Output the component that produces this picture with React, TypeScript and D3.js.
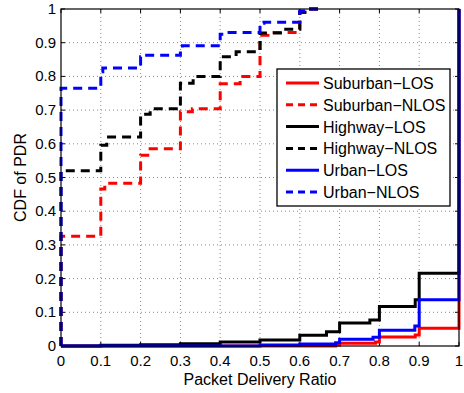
import React from "react";
import * as d3 from "d3";

/* DATA (step CDFs: y changes at each x) */
const suburbanLosX = [0, 0.69, 0.7, 0.79, 0.8, 0.89, 0.9, 1, 1];
const suburbanLosY = [0, 0.003, 0.008, 0.012, 0.027, 0.033, 0.053, 0.053, 1];

const suburbanNlosX = [0, 0, 0.1, 0.11, 0.2, 0.224, 0.3, 0.33, 0.4, 0.45, 0.5, 0.52, 0.6, 0.62, 0.66];
const suburbanNlosY = [0, 0.326, 0.466, 0.483, 0.566, 0.585, 0.695, 0.704, 0.778, 0.8, 0.922, 0.93, 0.99, 1, 1];

const highwayLosX = [0, 0.1, 0.2, 0.3, 0.4, 0.5, 0.6, 0.667, 0.7, 0.776, 0.8, 0.89, 0.9, 1, 1];
const highwayLosY = [0, 0.002, 0.004, 0.007, 0.012, 0.018, 0.032, 0.042, 0.068, 0.077, 0.117, 0.137, 0.216, 0.216, 1];

const highwayNlosX = [0, 0, 0.1, 0.115, 0.2, 0.224, 0.3, 0.332, 0.4, 0.44, 0.5, 0.557, 0.6, 0.62, 0.66];
const highwayNlosY = [0, 0.52, 0.596, 0.62, 0.688, 0.704, 0.78, 0.8, 0.858, 0.873, 0.929, 0.94, 0.99, 1, 1];

const urbanLosX = [0, 0.5, 0.6, 0.69, 0.7, 0.784, 0.8, 0.889, 0.9, 1, 1];
const urbanLosY = [0, 0.003, 0.006, 0.01, 0.02, 0.026, 0.047, 0.059, 0.137, 0.137, 1];

const urbanNlosX = [0, 0, 0.1, 0.105, 0.2, 0.21, 0.3, 0.305, 0.4, 0.41, 0.5, 0.51, 0.6, 0.62, 0.66];
const urbanNlosY = [0, 0.765, 0.814, 0.825, 0.858, 0.863, 0.875, 0.891, 0.925, 0.93, 0.958, 0.961, 0.994, 1, 1];

const seriesNames = ["Suburban−LOS", "Suburban−NLOS", "Highway−LOS", "Highway−NLOS", "Urban−LOS", "Urban−NLOS"];
const seriesColors = ["#ff0000", "#ff0000", "#000000", "#000000", "#0000ff", "#0000ff"];
const seriesDashed = [false, true, false, true, false, true];

const tickValues = [0, 0.1, 0.2, 0.3, 0.4, 0.5, 0.6, 0.7, 0.8, 0.9, 1];
const tickLabels = ["0", "0.1", "0.2", "0.3", "0.4", "0.5", "0.6", "0.7", "0.8", "0.9", "1"];

const allX = [suburbanLosX, suburbanNlosX, highwayLosX, highwayNlosX, urbanLosX, urbanNlosX];
const allY = [suburbanLosY, suburbanNlosY, highwayLosY, highwayNlosY, urbanLosY, urbanNlosY];

function App() {
  const width = 464;
  const height = 393;
  const left = 61;
  const right = 459;
  const top = 9;
  const bottom = 346;
  const font = "Liberation Sans, Arial, Helvetica, sans-serif";

  const x = d3.scaleLinear().domain([0, 1]).range([left, right]);
  const y = d3.scaleLinear().domain([0, 1]).range([bottom, top]);

  const line = d3
    .line<[number, number]>()
    .x((d) => x(d[0]))
    .y((d) => y(d[1]))
    .curve(d3.curveStepAfter);

  // legend geometry
  const lg = { x: 277, y: 69, w: 173, h: 137, row: 21.8 };

  return (
    <svg
      width={width}
      height={height}
      style={{ position: "absolute", left: 0, top: 0, background: "#fff" }}
      fontFamily={font}
    >
      <rect x={0} y={0} width={width} height={height} fill="#fff" />

      {/* grid */}
      {tickValues.slice(1, -1).map((t, i) => (
        <g key={"g" + i}>
          <line x1={x(t)} x2={x(t)} y1={top} y2={bottom} stroke="#8a8a8a" strokeWidth={1} strokeDasharray="1,3" />
          <line x1={left} x2={right} y1={y(t)} y2={y(t)} stroke="#8a8a8a" strokeWidth={1} strokeDasharray="1,3" />
        </g>
      ))}

      {/* ticks */}
      {tickValues.map((t, i) => (
        <g key={"t" + i} stroke="#000" strokeWidth={1}>
          <line x1={x(t)} x2={x(t)} y1={bottom} y2={bottom - 4} />
          <line x1={x(t)} x2={x(t)} y1={top} y2={top + 4} />
          <line x1={left} x2={left + 4} y1={y(t)} y2={y(t)} />
          <line x1={right} x2={right - 4} y1={y(t)} y2={y(t)} />
        </g>
      ))}

      {/* series */}
      {allX.map((xs, i) => {
        const pts = xs.map((v, j) => [v, allY[i][j]] as [number, number]);
        return (
          <path
            key={"s" + i}
            d={line(pts) || ""}
            fill="none"
            stroke={seriesColors[i]}
            strokeWidth={3}
            strokeDasharray={seriesDashed[i] ? "9,6" : undefined}
          />
        );
      })}

      {/* axes box */}
      <rect x={left} y={top} width={right - left} height={bottom - top} fill="none" stroke="#000" strokeWidth={1.2} />

      {/* tick labels */}
      {tickValues.map((t, i) => (
        <text key={"xl" + i} x={x(t)} y={366} fontSize={15} textAnchor="middle" fill="#000">
          {tickLabels[i]}
        </text>
      ))}
      {tickValues.map((t, i) => (
        <text key={"yl" + i} x={56} y={y(t) + 5} fontSize={15} textAnchor="end" fill="#000">
          {tickLabels[i]}
        </text>
      ))}

      {/* axis labels */}
      <text x={(left + right) / 2} y={385} fontSize={16} textAnchor="middle" fill="#000">
        Packet Delivery Ratio
      </text>
      <text
        transform={`translate(26, ${(top + bottom) / 2}) rotate(-90)`}
        fontSize={16}
        textAnchor="middle"
        fill="#000"
      >
        CDF of PDR
      </text>

      {/* legend */}
      <rect x={lg.x} y={lg.y} width={lg.w} height={lg.h} fill="#fff" stroke="#000" strokeWidth={1.3} />
      {seriesNames.map((name, i) => {
        const cy = lg.y + 14 + i * lg.row;
        return (
          <g key={"l" + i}>
            <line
              x1={lg.x + 9}
              x2={lg.x + 42}
              y1={cy}
              y2={cy}
              stroke={seriesColors[i]}
              strokeWidth={3}
              strokeDasharray={seriesDashed[i] ? "7,5" : undefined}
            />
            <text x={lg.x + 46} y={cy + 6} fontSize={16} fill="#000">
              {name}
            </text>
          </g>
        );
      })}
    </svg>
  );
}

export default App;
